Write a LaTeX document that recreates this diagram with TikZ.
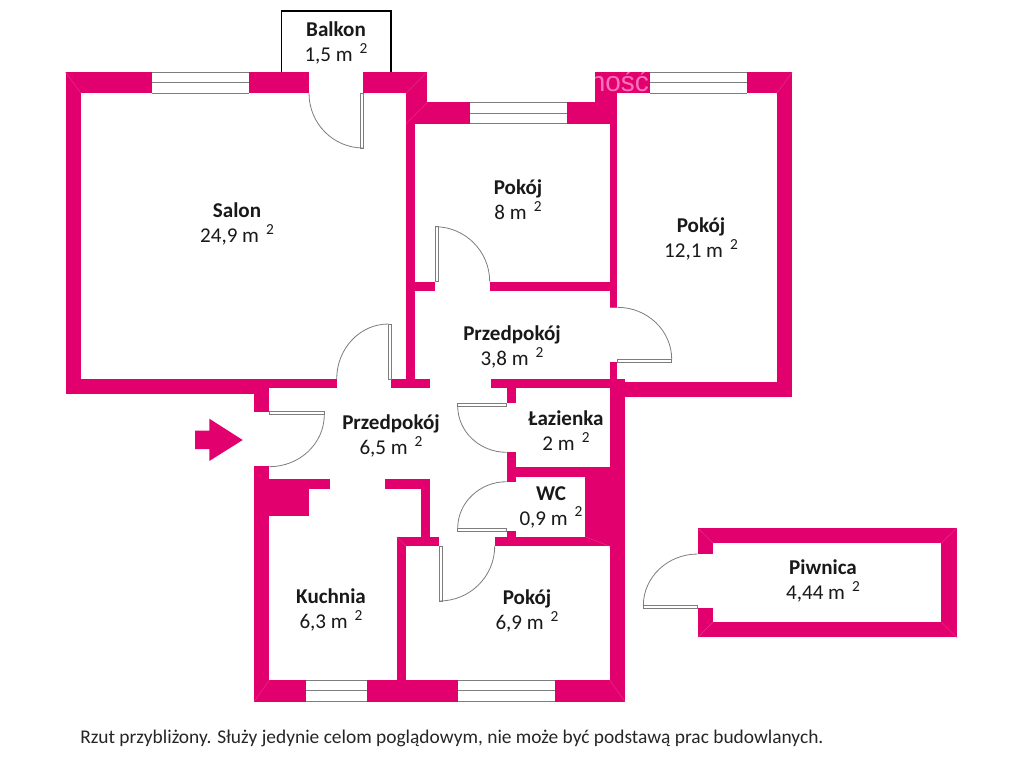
\documentclass[tikz,border=0pt]{standalone}
\usepackage{fontspec}
\setmainfont{Carlito}
\newfontfamily\markfont{Liberation Sans}
\newcommand{\sqm}[1]{#1 m\,\,\raisebox{0.85ex}{\fontsize{11.5}{11.5}\selectfont 2}}
\newcommand{\wl}[4]{\fill[wall] (#1,#2) rectangle (#3,#4);}
\newcommand{\winh}[4]{\fill[white] (#1,#2) rectangle (#3,#4);
  \draw[frame] (#1,#2) -- (#3,#2) (#1,{(#2+#4)/2}) -- (#3,{(#2+#4)/2}) (#1,#4) -- (#3,#4);}
% quarter-circle swing from A to B about centre C
\newcommand{\qa}[6]{\draw[swing] (#1,#2) .. controls ({#1+0.5523*(#3-#5)},{#2+0.5523*(#4-#6)}) and ({#3+0.5523*(#1-#5)},{#4+0.5523*(#2-#6)}) .. (#3,#4);}
\definecolor{wallpink}{RGB}{226,0,110}
\definecolor{framegray}{RGB}{125,125,125}
\definecolor{markpink}{RGB}{250,115,185}
\tikzset{
  wall/.style={fill=wallpink},
  frame/.style={draw=framegray,line width=0.75pt},
  leaf/.style={draw=framegray,line width=0.75pt,fill=white},
  swing/.style={draw=framegray,line width=0.6pt},
  mitre/.style={draw=wallpink!80!white,line width=0.3pt},
  room/.style={align=center,font=\fontsize{15.8}{18.8}\selectfont,inner sep=0pt,text=black!90},
}
\begin{document}
\begin{tikzpicture}[x=0.75pt,y=-0.75pt]
\useasboundingbox (0,0) rectangle (1024,768);
\fill[white] (0,0) rectangle (1024,768);

% balcony
\draw[black,line width=1pt] (281.3,72) -- (281.3,11) -- (391,11) -- (391,72);

% Salon walls
\wl{65.5}{72}{152}{93.3}
\wl{249}{72}{309}{93.3}
\wl{363.3}{72}{427.3}{93.3}
\wl{65.5}{72}{81}{394}
\wl{65.5}{379}{254}{394}
\wl{254}{379}{336.7}{388.3}
\wl{254}{379}{269.3}{411.7}
\wl{391.3}{379}{430.3}{388.3}
\wl{406}{72}{415.3}{382}
\wl{406}{72}{427.3}{102.3}
% Pokoj 8
\wl{406}{102.3}{470}{123.7}
\wl{566.7}{102.3}{617.3}{123.7}
\wl{609.5}{102.3}{617.3}{379}
\wl{415.3}{281.7}{435}{291}
\wl{489.7}{281.7}{609.5}{291}
% Pokoj 12
\wl{595.3}{72}{649.5}{93.3}
\wl{595.3}{72}{617.3}{123.7}
\wl{746.7}{72}{792.3}{93.3}
\wl{776.7}{72}{792.3}{396.7}
\wl{617.3}{382}{792.3}{396.7}
% small hall, bath
\fill[white] (609.5,307.3) rectangle (617.3,362.3);
\wl{491}{379}{625}{388.3}
\wl{609.5}{362.3}{617.3}{388.3}
\wl{609.7}{382}{625}{701.7}
\wl{506.7}{388}{515.7}{403.3}
\wl{506.7}{452.3}{515.7}{481.7}
\wl{506.7}{530.7}{515.7}{537}
\wl{515.7}{466.7}{610}{476.7}
\wl{585}{467}{610}{546.2}
\wl{494.7}{536.7}{610}{546.2}
% kitchen
\wl{254}{466}{269.3}{701.7}
\wl{269}{479.3}{330.3}{489}
\wl{269}{479.3}{309}{515.7}
\wl{384.7}{479.3}{430.3}{489}
\wl{421}{479.3}{430.3}{537}
\wl{396.7}{536.7}{439.3}{546.2}
\wl{396.7}{536.7}{406}{680}
% bottom wall
\wl{254}{680}{306}{701.7}
\wl{366.7}{680}{458}{701.7}
\wl{555}{680}{625}{701.7}
% Piwnica
\wl{697.7}{528}{956.7}{543.3}
\wl{697.7}{621.7}{956.7}{637.3}
\wl{941}{528}{956.7}{637.3}
\wl{697.7}{528}{713.3}{554}
\wl{697.7}{608.3}{713.3}{637.3}

% pale mitre seams at the wall corners
\draw[mitre] (65.5,72) -- (81,93.3) (427.3,72) -- (406,93.3) (427.3,102.3) -- (406,123.7)
  (792.3,72) -- (776.7,93.3) (254,701.7) -- (269.3,680) (625,701.7) -- (609.7,680)
  (396.7,536.7) -- (406,546.2) (585,536.7) -- (609.7,546.2)
  (697.7,528) -- (713.3,543.3) (956.7,528) -- (941,543.3)
  (956.7,637.3) -- (941,621.7) (697.7,637.3) -- (713.3,621.7);

% windows
\winh{152}{72}{249}{93.3}
\winh{470}{102.3}{566.7}{123.7}
\winh{649.5}{72}{746.7}{93.3}
\winh{306}{680}{366.7}{701.7}
\winh{458}{680}{555}{701.7}

% watermark fragment on the wall
\begin{scope}
\clip (595.3,72) rectangle (649.5,93.3);
\node[inner sep=0pt,anchor=base west,text=markpink,font=\fontsize{21}{21}\selectfont\markfont] (mark) at (589.5,91.5) {ność};
\end{scope}

% doors
\draw[leaf] (360.7,93.3) rectangle (363.3,148);
\qa{309}{93.3}{363.3}{148}{363.3}{93.3}
\draw[leaf] (435,226.7) rectangle (438.7,281.7);
\qa{435}{226.7}{489.7}{281.7}{435}{281.7}
\draw[leaf] (617.3,359.3) rectangle (671.7,362.3);
\draw[swing] (609.7,307.3) -- (617.3,307.3);
\qa{617.3}{307.3}{671.7}{359.3}{617.3}{359.3}
\draw[leaf] (388.3,324) rectangle (391.3,379);
\qa{388.3}{324}{336.7}{379}{388.3}{379}
\draw[leaf] (269.3,411.7) rectangle (324.3,414.7);
\qa{324.3}{414.7}{269.3}{466.7}{269.3}{414.7}
\draw[leaf] (457.7,403.3) rectangle (506.7,406);
\qa{457.7}{406}{506.7}{452.3}{506.7}{406}
\draw[leaf] (457.7,528.3) rectangle (506.7,531);
\qa{457.7}{528.3}{506.7}{481.7}{506.7}{528.3}
\draw[leaf] (439.3,546.2) rectangle (442.7,601);
\qa{439.3}{601}{494.7}{546.2}{439.3}{546.2}
\draw[leaf] (643.3,605.7) rectangle (697.7,608.3);
\qa{643.3}{605.7}{697.7}{554}{697.7}{605.7}

% entrance arrow
\fill[wall] (195,430.7) -- (209.3,430.7) -- (209.3,418.7) -- (242.7,440) -- (209.3,461) -- (209.3,449) -- (195,449) -- cycle;

% labels
\node[room] (balkon) at (336,43) {\textbf{Balkon}\\\sqm{1,5}};
\node[room] (salon) at (237,224) {\textbf{Salon}\\\sqm{24,9}};
\node[room] (pokoj8) at (518,200) {\textbf{Pokój}\\\sqm{8}};
\node[room] (pokoj12) at (701,239) {\textbf{Pokój}\\\sqm{12,1}};
\node[room] (hall1) at (512,347) {\textbf{Przedpokój}\\\sqm{3,8}};
\node[room] (hall2) at (391,436) {\textbf{Przedpokój}\\\sqm{6,5}};
\node[room] (lazienka) at (566,431) {\textbf{Łazienka}\\\sqm{2}};
\node[room] (wc) at (551,507) {\textbf{WC}\\\sqm{0,9}};
\node[room] (kuchnia) at (331,610) {\textbf{Kuchnia}\\\sqm{6,3}};
\node[room] (pokoj69) at (527,611) {\textbf{Pokój}\\\sqm{6,9}};
\node[room] (piwnica) at (823,581) {\textbf{Piwnica}\\\sqm{4,44}};
\node[inner sep=0pt,anchor=base west,text=black!85,font=\fontsize{14.55}{14.55}\selectfont] (note) at (80,743) {Rzut przybliżony. Służy jedynie celom poglądowym, nie może być podstawą prac budowlanych.};
\end{tikzpicture}
\end{document}
